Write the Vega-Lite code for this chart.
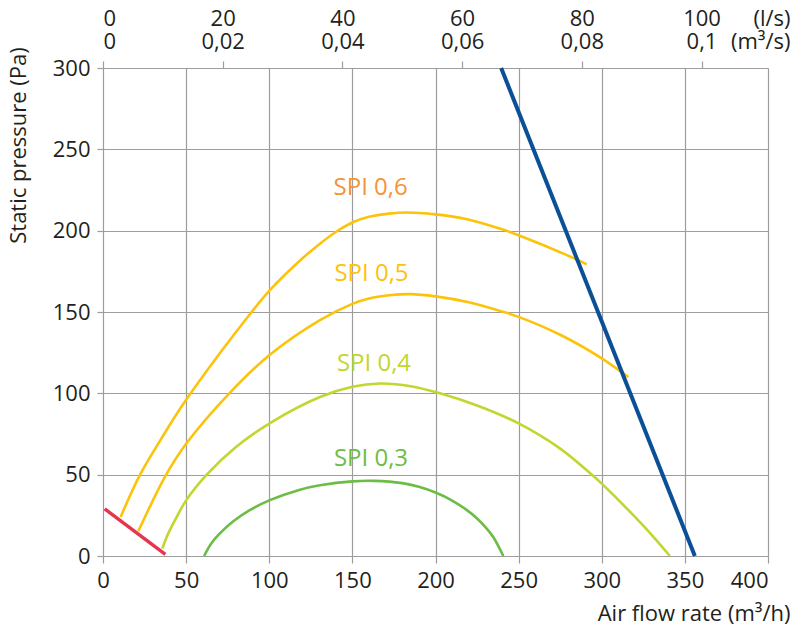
{
  "$schema": "https://vega.github.io/schema/vega-lite/v6.json",
  "width": 665,
  "height": 488,
  "autosize": {"type": "none"},
  "padding": {"left": 103, "top": 68, "right": 32, "bottom": 75},
  "background": "white",
  "config": {
    "view": {"stroke": null},
    "font": "Open Sans",
    "axis": {
      "domain": false,
      "labelFont": "Open Sans",
      "labelFontSize": 22,
      "labelColor": "#231f20",
      "titleFont": "Open Sans",
      "titleFontSize": 22,
      "titleFontWeight": "normal",
      "titleColor": "#231f20",
      "gridColor": "#9d9d9d",
      "gridWidth": 1.2,
      "gridOpacity": 1,
      "tickColor": "#9d9d9d",
      "tickWidth": 1.2,
      "labelOverlap": false
    }
  },
  "datasets": {
    "curves": [
      {"series": "0,6", "flow": 10.6, "pressure": 24},
      {"series": "0,6", "flow": 22.3, "pressure": 50},
      {"series": "0,6", "flow": 35, "pressure": 72},
      {"series": "0,6", "flow": 50, "pressure": 96},
      {"series": "0,6", "flow": 89.4, "pressure": 150},
      {"series": "0,6", "flow": 100, "pressure": 163},
      {"series": "0,6", "flow": 120, "pressure": 183},
      {"series": "0,6", "flow": 130.5, "pressure": 192},
      {"series": "0,6", "flow": 140.5, "pressure": 199.5},
      {"series": "0,6", "flow": 150, "pressure": 205},
      {"series": "0,6", "flow": 160, "pressure": 208.5},
      {"series": "0,6", "flow": 172, "pressure": 210.5},
      {"series": "0,6", "flow": 183, "pressure": 211.2},
      {"series": "0,6", "flow": 200, "pressure": 210},
      {"series": "0,6", "flow": 219, "pressure": 207},
      {"series": "0,6", "flow": 241, "pressure": 200.5},
      {"series": "0,6", "flow": 250, "pressure": 197.2},
      {"series": "0,6", "flow": 279, "pressure": 185},
      {"series": "0,6", "flow": 291, "pressure": 179.3},

      {"series": "0,5", "flow": 21.3, "pressure": 15.4},
      {"series": "0,5", "flow": 38, "pressure": 50},
      {"series": "0,5", "flow": 50, "pressure": 69},
      {"series": "0,5", "flow": 76, "pressure": 100},
      {"series": "0,5", "flow": 100, "pressure": 123.4},
      {"series": "0,5", "flow": 130.5, "pressure": 145},
      {"series": "0,5", "flow": 150, "pressure": 155},
      {"series": "0,5", "flow": 160, "pressure": 158.3},
      {"series": "0,5", "flow": 172, "pressure": 160.3},
      {"series": "0,5", "flow": 185, "pressure": 161},
      {"series": "0,5", "flow": 200, "pressure": 159.6},
      {"series": "0,5", "flow": 220, "pressure": 156},
      {"series": "0,5", "flow": 241, "pressure": 150},
      {"series": "0,5", "flow": 250, "pressure": 147},
      {"series": "0,5", "flow": 275, "pressure": 136},
      {"series": "0,5", "flow": 300, "pressure": 121.5},
      {"series": "0,5", "flow": 316, "pressure": 110},

      {"series": "0,4", "flow": 35.7, "pressure": 4.5},
      {"series": "0,4", "flow": 38.3, "pressure": 11.7},
      {"series": "0,4", "flow": 43.3, "pressure": 22},
      {"series": "0,4", "flow": 50, "pressure": 34.2},
      {"series": "0,4", "flow": 62.4, "pressure": 50},
      {"series": "0,4", "flow": 80, "pressure": 67},
      {"series": "0,4", "flow": 100, "pressure": 81.4},
      {"series": "0,4", "flow": 130.5, "pressure": 97.7},
      {"series": "0,4", "flow": 150, "pressure": 104},
      {"series": "0,4", "flow": 166.6, "pressure": 106},
      {"series": "0,4", "flow": 185, "pressure": 104.4},
      {"series": "0,4", "flow": 202.7, "pressure": 100},
      {"series": "0,4", "flow": 225, "pressure": 92.5},
      {"series": "0,4", "flow": 250, "pressure": 81.5},
      {"series": "0,4", "flow": 275, "pressure": 66},
      {"series": "0,4", "flow": 294, "pressure": 50},
      {"series": "0,4", "flow": 300, "pressure": 44.5},
      {"series": "0,4", "flow": 320, "pressure": 24},
      {"series": "0,4", "flow": 330, "pressure": 13},
      {"series": "0,4", "flow": 341, "pressure": 0},

      {"series": "0,3", "flow": 60.8, "pressure": 0},
      {"series": "0,3", "flow": 65, "pressure": 7.6},
      {"series": "0,3", "flow": 70, "pressure": 13.6},
      {"series": "0,3", "flow": 78.4, "pressure": 21.3},
      {"series": "0,3", "flow": 88, "pressure": 28},
      {"series": "0,3", "flow": 100, "pressure": 34.2},
      {"series": "0,3", "flow": 118.5, "pressure": 40.8},
      {"series": "0,3", "flow": 130.5, "pressure": 43.5},
      {"series": "0,3", "flow": 150, "pressure": 45.9},
      {"series": "0,3", "flow": 163, "pressure": 46.2},
      {"series": "0,3", "flow": 180, "pressure": 44.8},
      {"series": "0,3", "flow": 190, "pressure": 42.5},
      {"series": "0,3", "flow": 200, "pressure": 39},
      {"series": "0,3", "flow": 210, "pressure": 34.1},
      {"series": "0,3", "flow": 218.5, "pressure": 28.5},
      {"series": "0,3", "flow": 225, "pressure": 23.1},
      {"series": "0,3", "flow": 230.7, "pressure": 17},
      {"series": "0,3", "flow": 235, "pressure": 11.2},
      {"series": "0,3", "flow": 240.8, "pressure": 0},

      {"series": "min", "flow": 1, "pressure": 29},
      {"series": "min", "flow": 37.5, "pressure": 1},

      {"series": "max", "flow": 239.5, "pressure": 300},
      {"series": "max", "flow": 356, "pressure": 0}
    ],
    "labels": [
      {"label": "SPI 0,6", "flow": 161, "pressure": 226},
      {"label": "SPI 0,5", "flow": 161.5, "pressure": 173.6},
      {"label": "SPI 0,4", "flow": 163, "pressure": 118.3},
      {"label": "SPI 0,3", "flow": 161.2, "pressure": 59.9}
    ]
  },
  "layer": [
    {
      "data": {"name": "curves"},
      "transform": [{"filter": "datum.series != 'min' && datum.series != 'max'"}],
      "mark": {"type": "line", "interpolate": "catmull-rom", "strokeWidth": 2.6},
      "encoding": {
        "x": {
          "field": "flow",
          "type": "quantitative",
          "scale": {"domain": [0, 400], "nice": false, "zero": false},
          "axis": {
            "orient": "bottom",
            "values": [0, 50, 100, 150, 200, 250, 300, 350, 400],
            "grid": true,
            "tickSize": 7,
            "labelPadding": 7,
            "labelAlign": {"condition": {"test": "datum.value == 400", "value": "right"}, "value": "center"},
            "title": "Air flow rate (m³/h)",
            "titleAlign": "right",
            "titleBaseline": "alphabetic",
            "titleX": 687,
            "titleY": 64
          }
        },
        "y": {
          "field": "pressure",
          "type": "quantitative",
          "scale": {"domain": [0, 300], "nice": false, "zero": false},
          "axis": {
            "orient": "left",
            "values": [0, 50, 100, 150, 200, 250, 300],
            "grid": true,
            "tickSize": 6,
            "labelPadding": 7,
            "title": "Static pressure (Pa)",
            "titleAngle": -90,
            "titleAlign": "center",
            "titleBaseline": "alphabetic",
            "titleX": -78,
            "titleY": 77
          }
        },
        "color": {
          "field": "series",
          "type": "nominal",
          "scale": {
            "domain": ["0,6", "0,5", "0,4", "0,3"],
            "range": ["#fcc30b", "#fcc30b", "#c3d62f", "#6cbd45"]
          },
          "legend": null
        }
      }
    },
    {
      "data": {"name": "curves"},
      "transform": [{"filter": "datum.series == 'min'"}],
      "mark": {"type": "line", "color": "#e6354f", "strokeWidth": 3.4},
      "encoding": {
        "x": {"field": "flow", "type": "quantitative", "axis": null},
        "y": {"field": "pressure", "type": "quantitative", "axis": null}
      }
    },
    {
      "data": {"name": "curves"},
      "transform": [{"filter": "datum.series == 'max'"}],
      "mark": {"type": "line", "color": "#0b4f96", "strokeWidth": 4},
      "encoding": {
        "x": {"field": "flow", "type": "quantitative", "axis": null},
        "y": {"field": "pressure", "type": "quantitative", "axis": null}
      }
    },
    {
      "data": {"name": "labels"},
      "mark": {"type": "text", "font": "Open Sans", "fontSize": 24, "align": "center", "baseline": "middle"},
      "encoding": {
        "x": {
          "field": "flow",
          "type": "quantitative",
          "axis": {
            "orient": "top",
            "values": [0, 72, 144, 216, 288, 360],
            "grid": false,
            "tickSize": 7,
            "labelBaseline": "alphabetic",
            "labelPadding": 36,
            "labelLineHeight": 23,
            "labelExpr": "[format(round(datum.value / 3.6), 'd'), replace(format(datum.value / 3600, '.2~f'), '.', ',')]",
            "title": ["(l/s)", "(m³/s)"],
            "titleAlign": "right",
            "titleBaseline": "alphabetic",
            "titleLineHeight": 23,
            "titleX": 687,
            "titleY": -43
          }
        },
        "y": {"field": "pressure", "type": "quantitative", "axis": null},
        "text": {"field": "label"},
        "color": {
          "field": "label",
          "type": "nominal",
          "scale": {
            "domain": ["SPI 0,6", "SPI 0,5", "SPI 0,4", "SPI 0,3"],
            "range": ["#f39437", "#fcc30b", "#c3d62f", "#6cbd45"]
          },
          "legend": null
        }
      }
    }
  ],
  "resolve": {
    "scale": {"color": "independent"},
    "axis": {"x": "independent", "y": "independent"}
  }
}
